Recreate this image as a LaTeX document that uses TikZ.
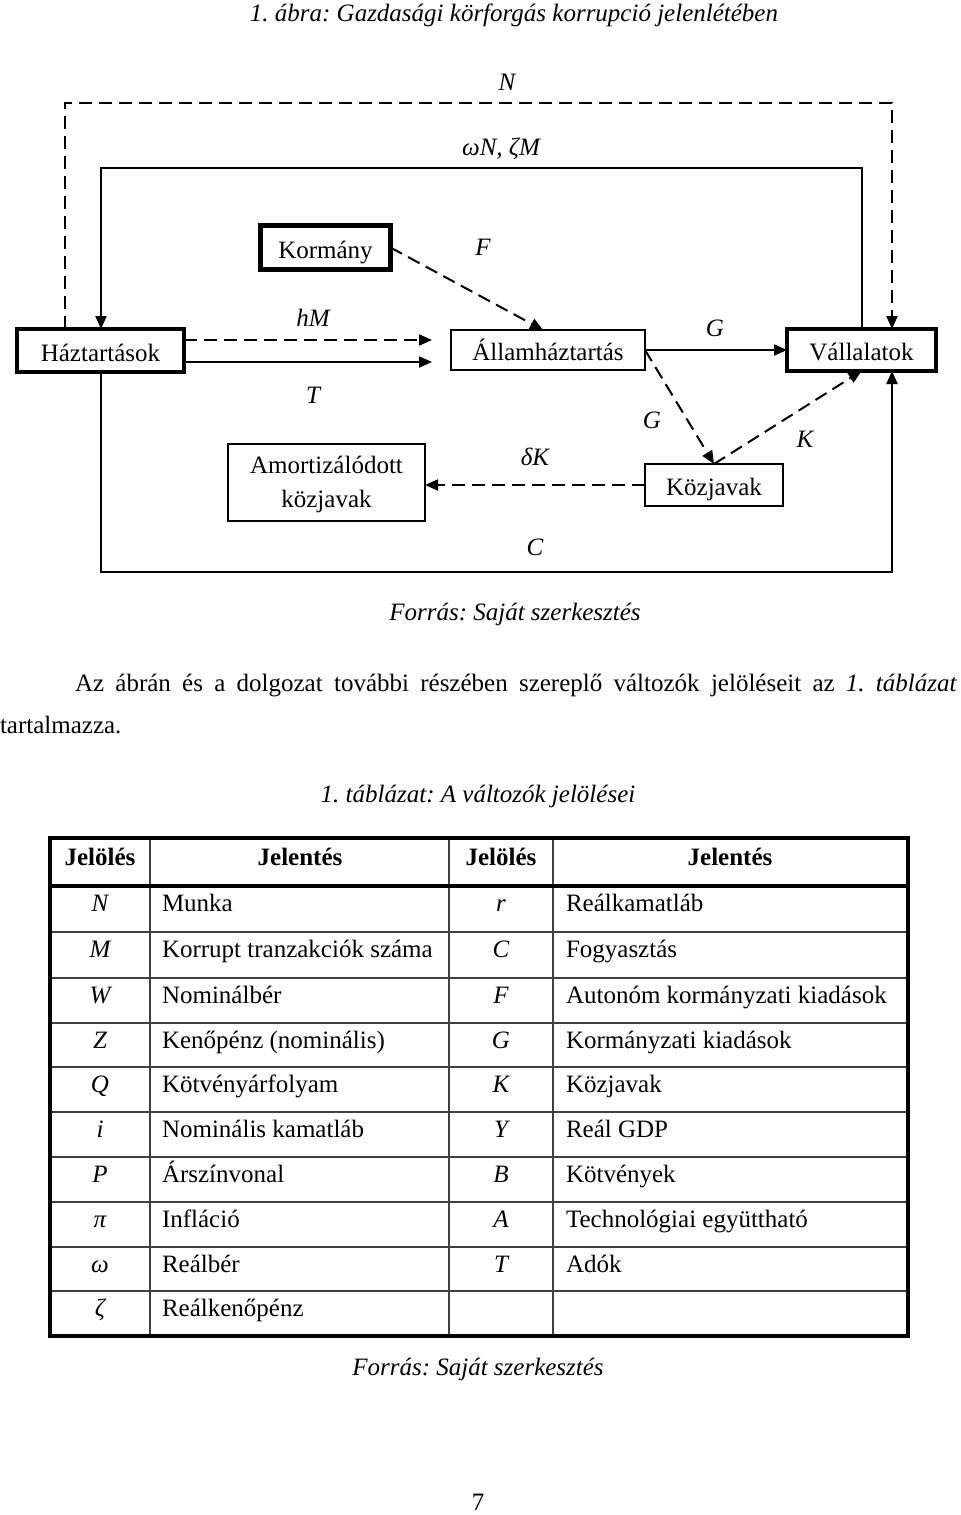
\documentclass[tikz,border=0pt]{standalone}
\usepackage{fontspec}
\setmainfont{Liberation Serif}
\usetikzlibrary{arrows.meta,calc}
\frenchspacing
\begin{document}
\begin{tikzpicture}[x=0.5pt,y=-0.5pt,
  every node/.style={font=\fontsize{12.5}{17}\selectfont, inner sep=0pt, outer sep=0pt},
  box/.style={draw, line width=1pt, text height=11pt, text depth=0.5pt},
  thickbox/.style={box, line width=2.3pt},
  flow/.style={line width=1pt, -{Triangle[length=6.5pt,width=5.5pt]}},
  dflow/.style={flow, dash pattern=on 6.5pt off 3.5pt},
  lbl/.style={anchor=base, font=\fontsize{12.5}{17}\selectfont\itshape},
  txt/.style={anchor=base},
  tline/.style={line width=0.8pt, black!75},
  tthick/.style={line width=2pt}]
\fill[white] (0,0) rectangle (960,1515);
\useasboundingbox (0,0) rectangle (960,1515);

% captions
\node[lbl] (title) at (514,21) {1. ábra: Gazdasági körforgás korrupció jelenlétében};

% boxes
\node[thickbox, minimum width=65pt, minimum height=22pt] (ko) at (325.5,247.5) {Kormány};
\node[thickbox, minimum width=83.5pt, minimum height=21.5pt] (hh) at (100.5,350.5) {Háztartások};
\node[box, minimum width=97pt, minimum height=20pt] (ah) at (548,350) {Államháztartás};
\node[thickbox, minimum width=74.5pt, minimum height=21pt] (va) at (861.5,350) {Vállalatok};
\node[box, minimum width=69pt, minimum height=21pt] (kj) at (714,485) {Közjavak};
\node[box, minimum width=98.5pt, minimum height=38.5pt, align=center, text height=25pt, text depth=0.5pt] (am) at (326.5,482.5) {Amortizálódott\\közjavak};

% coordinates
\coordinate (nL) at (65,103);
\coordinate (nR) at (892,103);
\coordinate (wL) at (101,168);
\coordinate (wR) at (862,168);
\coordinate (cB) at (892,572);
\coordinate (hmE) at (432,340);
\coordinate (tE) at (432,362);

% connectors
\draw[dflow] (hh.north -| nL) -- (nL) -- (nR) -- (nR |- va.north);
\draw[flow] (va.north -| wR) -- (wR) -- (wL) -- (wL |- hh.north);
\draw[flow] (hh.south) -- (hh.south |- cB) -- (cB) -- (cB |- va.south);
\draw[dflow] (hh.east |- hmE) -- (hmE);
\draw[flow] (hh.east |- tE) -- (tE);
\draw[dflow] (ko.east) -- ($(ah.north)+(-5,0)$);
\draw[flow] (ah.east) -- (va.west);
\draw[dflow] (ah.east) -- (kj.north);
\draw[dflow] (kj.north) -- (va.south);
\draw[dflow] (kj.west) -- (kj.west -| am.east);

% labels
\node[lbl] (lN) at (507,90) {N};
\node[lbl] (lwz) at (501,155) {ωN, ζM};
\node[lbl] (lF) at (483,255) {F};
\node[lbl] (lhM) at (313,326) {hM};
\node[lbl] (lT) at (313,403) {T};
\node[lbl] (lG1) at (715,336) {G};
\node[lbl] (lG2) at (652,428) {G};
\node[lbl] (lK) at (805,447) {K};
\node[lbl] (ldK) at (535,465) {δK};
\node[lbl] (lC) at (535,555) {C};

\node[lbl] (src1) at (515,620) {Forrás: Saját szerkesztés};

% paragraph
\node[anchor=base west] (p1) at (75,691) {\makebox[441pt][s]{Az ábrán és a dolgozat további részében szereplő változók jelöléseit az \textit{1.\ táblázat}}};
\node[anchor=base west] (p2) at (0,733) {tartalmazza.};

\node[lbl] (tcap) at (478,802) {1. táblázat: A változók jelölései};

% table
\foreach \y in {932,978,1023,1067,1112,1157,1202,1247,1291}
  \draw[tline] (50,\y) -- (908,\y);
\foreach \x in {150,449,553}
  \draw[tline] (\x,838) -- (\x,1336);
\draw[tthick] (50,838) rectangle (908,1336);
\draw[tthick] (50,886) -- (908,886);

\node[txt, font=\fontsize{12.5}{17}\selectfont\bfseries] (h1) at (100,865) {Jelölés};
\node[txt, font=\fontsize{12.5}{17}\selectfont\bfseries] (h2) at (300,865) {Jelentés};
\node[txt, font=\fontsize{12.5}{17}\selectfont\bfseries] (h3) at (501,865) {Jelölés};
\node[txt, font=\fontsize{12.5}{17}\selectfont\bfseries] (h4) at (730,865) {Jelentés};

\foreach \t/\a/\b/\c/\d in {886/N/Munka/r/Reálkamatláb,
  932/M/Korrupt tranzakciók száma/C/Fogyasztás,
  978/W/Nominálbér/F/Autonóm kormányzati kiadások,
  1023/Z/Kenőpénz (nominális)/G/Kormányzati kiadások,
  1067/Q/Kötvényárfolyam/K/Közjavak,
  1112/i/Nominális kamatláb/Y/Reál GDP,
  1157/P/Árszínvonal/B/Kötvények,
  1202/π/Infláció/A/Technológiai együttható,
  1247/ω/Reálbér/T/Adók,
  1291/ζ/Reálkenőpénz//}{
  \node[lbl] (ca\t) at (100,\t+25) {\a};
  \node[anchor=base west] (cb\t) at (162,\t+25) {\b};
  \node[lbl] (cc\t) at (501,\t+25) {\c};
  \node[anchor=base west] (cd\t) at (566,\t+25) {\d};
}

\node[lbl] (src2) at (478,1375) {Forrás: Saját szerkesztés};
\node[txt] (pg) at (478,1510) {7};
\end{tikzpicture}
\end{document}
